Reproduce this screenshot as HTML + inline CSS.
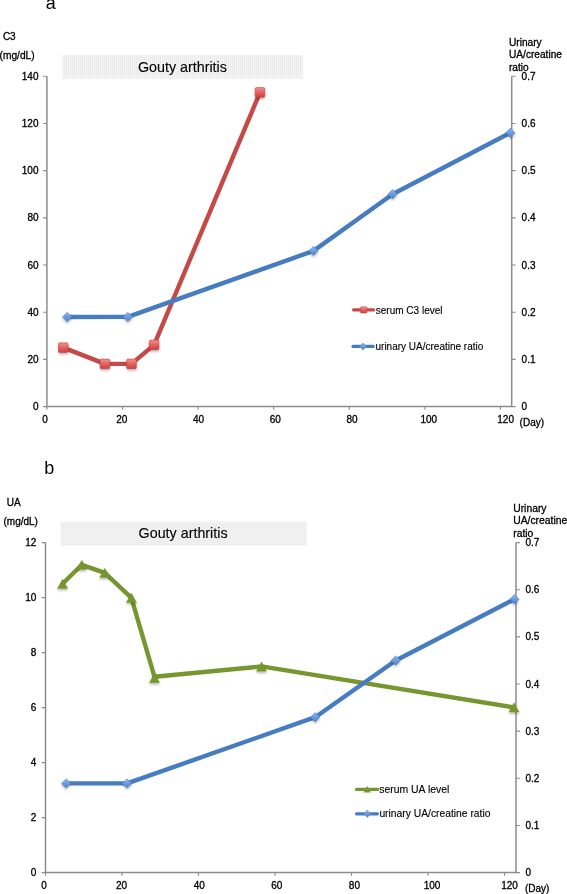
<!DOCTYPE html><html><head><meta charset="utf-8"><style>html,body{margin:0;padding:0;background:#fff;}svg{display:block;will-change:transform}</style></head><body>
<svg width="567" height="894" viewBox="0 0 567 894" font-family='"Liberation Sans", sans-serif' font-size="10" fill="#000">
<style>text{stroke:#000;stroke-width:0.3px;}</style>
<defs>
<pattern id="hatch" width="2" height="2" patternUnits="userSpaceOnUse"><rect width="2" height="2" fill="#f5f5f5"/><rect width="1" height="2" fill="#ebebeb"/></pattern>
<pattern id="check" width="2" height="2" patternUnits="userSpaceOnUse"><rect width="2" height="2" fill="#f5f5f5"/><rect width="1" height="1" fill="#eaeaea"/><rect x="1" y="1" width="1" height="1" fill="#eaeaea"/></pattern>
<linearGradient id="gr" x1="0" y1="0" x2="0" y2="1"><stop offset="0" stop-color="#f29391"/><stop offset="0.5" stop-color="#e2625f"/><stop offset="1" stop-color="#d0413f"/></linearGradient>
<linearGradient id="gb" x1="0" y1="0" x2="0" y2="1"><stop offset="0" stop-color="#8fb4ea"/><stop offset="0.5" stop-color="#6d9be0"/><stop offset="1" stop-color="#4e80c6"/></linearGradient>
<filter id="sh" x="-50%" y="-50%" width="200%" height="200%"><feDropShadow dx="0" dy="1.6" stdDeviation="1" flood-color="#000" flood-opacity="0.3"/></filter>
</defs>
<rect width="567" height="894" fill="#fff"/>
<rect x="62.3" y="55.2" width="240.7" height="23.700000000000003" fill="url(#hatch)"/>
<text x="137.9" y="71.6" font-size="14.3" style="stroke-width:0.12px">Gouty arthritis</text>
<path d="M46.9 76.3V406.6H511.7V76.3" fill="none" stroke="#8c8c8c" stroke-width="1.5"/>
<path d="M43.1 406.6H46.9M511.7 406.6H515.6M43.1 359.41H46.9M511.7 359.41H515.6M43.1 312.23H46.9M511.7 312.23H515.6M43.1 265.04H46.9M511.7 265.04H515.6M43.1 217.86H46.9M511.7 217.86H515.6M43.1 170.67H46.9M511.7 170.67H515.6M43.1 123.49H46.9M511.7 123.49H515.6M43.1 76.3H46.9M511.7 76.3H515.6M46.9 406.6V409.8M122.5 406.6V409.8M198.1 406.6V409.8M273.7 406.6V409.8M349.3 406.6V409.8M424.9 406.6V409.8M500.5 406.6V409.8" fill="none" stroke="#8c8c8c" stroke-width="1.1"/>
<text x="38.5" y="410.1" text-anchor="end">0</text>
<text x="521.6" y="410.1">0</text>
<text x="38.5" y="362.91" text-anchor="end">20</text>
<text x="521.6" y="362.91">0.1</text>
<text x="38.5" y="315.73" text-anchor="end">40</text>
<text x="521.6" y="315.73">0.2</text>
<text x="38.5" y="268.54" text-anchor="end">60</text>
<text x="521.6" y="268.54">0.3</text>
<text x="38.5" y="221.36" text-anchor="end">80</text>
<text x="521.6" y="221.36">0.4</text>
<text x="38.5" y="174.17" text-anchor="end">100</text>
<text x="521.6" y="174.17">0.5</text>
<text x="38.5" y="126.99" text-anchor="end">120</text>
<text x="521.6" y="126.99">0.6</text>
<text x="38.5" y="79.8" text-anchor="end">140</text>
<text x="521.6" y="79.8">0.7</text>
<text x="45" y="423" text-anchor="middle">0</text>
<text x="121.77" y="423" text-anchor="middle">20</text>
<text x="198.54" y="423" text-anchor="middle">40</text>
<text x="275.31" y="423" text-anchor="middle">60</text>
<text x="352.08" y="423" text-anchor="middle">80</text>
<text x="428.85" y="423" text-anchor="middle">100</text>
<text x="505.62" y="423" text-anchor="middle">120</text>
<text x="519.6" y="425.8">(Day)</text>
<rect x="60.6" y="521.6" width="246.1" height="24.0" fill="url(#check)"/>
<text x="138.6" y="538.0" font-size="14.3" style="stroke-width:0.12px">Gouty arthritis</text>
<path d="M45.5 542.6V872.6H516V542.6" fill="none" stroke="#8c8c8c" stroke-width="1.5"/>
<text x="36.3" y="876.1" text-anchor="end">0</text>
<text x="36.3" y="821.1" text-anchor="end">2</text>
<text x="36.3" y="766.1" text-anchor="end">4</text>
<text x="36.3" y="711.1" text-anchor="end">6</text>
<text x="36.3" y="656.1" text-anchor="end">8</text>
<text x="36.3" y="601.1" text-anchor="end">10</text>
<text x="36.3" y="546.1" text-anchor="end">12</text>
<text x="44" y="889" text-anchor="middle">0</text>
<text x="121.6" y="889" text-anchor="middle">20</text>
<text x="199.2" y="889" text-anchor="middle">40</text>
<text x="276.8" y="889" text-anchor="middle">60</text>
<text x="354.4" y="889" text-anchor="middle">80</text>
<text x="432" y="889" text-anchor="middle">100</text>
<text x="509.6" y="889" text-anchor="middle">120</text>
<path d="M41.7 872.6H45.5M41.7 817.6H45.5M41.7 762.6H45.5M41.7 707.6H45.5M41.7 652.6H45.5M41.7 597.6H45.5M41.7 542.6H45.5M45.5 872.6V875.8M122 872.6V875.8M198.5 872.6V875.8M275 872.6V875.8M351.5 872.6V875.8M428 872.6V875.8M504.5 872.6V875.8" fill="none" stroke="#8c8c8c" stroke-width="1.1"/>
<text x="525.5" y="876.1">0</text>
<text x="525.5" y="828.96">0.1</text>
<text x="525.5" y="781.81">0.2</text>
<text x="525.5" y="734.67">0.3</text>
<text x="525.5" y="687.53">0.4</text>
<text x="525.5" y="640.39">0.5</text>
<text x="525.5" y="593.24">0.6</text>
<text x="525.5" y="546.1">0.7</text>
<path d="M516 872.6H519.9M516 825.46H519.9M516 778.31H519.9M516 731.17H519.9M516 684.03H519.9M516 636.89H519.9M516 589.74H519.9M516 542.6H519.9" fill="none" stroke="#8c8c8c" stroke-width="1.1"/>
<text x="525" y="891.5">(Day)</text>
<text x="45.8" y="9.2" font-size="18" style="stroke-width:0">a</text>
<text x="44.2" y="473.8" font-size="18" style="stroke-width:0">b</text>
<text x="2.9" y="39.9">C3</text>
<text x="-0.5" y="58.5" font-size="10.2">(mg/dL)</text>
<text x="6.8" y="506.1">UA</text>
<text x="3.5" y="524.8">(mg/dL)</text>
<text x="509" y="46" font-size="10.15">Urinary</text>
<text x="509" y="58.3" font-size="10.15">UA/creatine</text>
<text x="509" y="70.6" font-size="10.15">ratio</text>
<text x="513.2" y="511.9" font-size="10.35">Urinary</text>
<text x="513.2" y="524.4" font-size="10.35">UA/creatine</text>
<text x="513.2" y="536.8" font-size="10.35">ratio</text>
<polyline points="63.3,347.6 105,363.9 131.5,363.9 154.1,344.9 260,92.4" fill="none" stroke="#c54a47" stroke-width="4.4" stroke-linejoin="round" stroke-linecap="round"/>
<rect x="58.5" y="342.8" width="9.6" height="9.6" rx="1.3" fill="url(#gr)" stroke="#c8403e" stroke-width="0.6" filter="url(#sh)"/>
<rect x="100.2" y="359.1" width="9.6" height="9.6" rx="1.3" fill="url(#gr)" stroke="#c8403e" stroke-width="0.6" filter="url(#sh)"/>
<rect x="126.7" y="359.1" width="9.6" height="9.6" rx="1.3" fill="url(#gr)" stroke="#c8403e" stroke-width="0.6" filter="url(#sh)"/>
<rect x="149.3" y="340.1" width="9.6" height="9.6" rx="1.3" fill="url(#gr)" stroke="#c8403e" stroke-width="0.6" filter="url(#sh)"/>
<rect x="255.2" y="87.6" width="9.6" height="9.6" rx="1.3" fill="url(#gr)" stroke="#c8403e" stroke-width="0.6" filter="url(#sh)"/>
<polyline points="67.2,317 127.9,316.9 313.5,250.9 392.5,194.2 510.4,132.8" fill="none" stroke="#467cc0" stroke-width="4.4" stroke-linejoin="round" stroke-linecap="round"/>
<path d="M67.2 312.3L71.9 317L67.2 321.7L62.5 317Z" fill="url(#gb)" stroke="#4d80c4" stroke-width="0.5" stroke-linejoin="round" filter="url(#sh)"/>
<path d="M127.9 312.2L132.6 316.9L127.9 321.6L123.2 316.9Z" fill="url(#gb)" stroke="#4d80c4" stroke-width="0.5" stroke-linejoin="round" filter="url(#sh)"/>
<path d="M313.5 246.2L318.2 250.9L313.5 255.6L308.8 250.9Z" fill="url(#gb)" stroke="#4d80c4" stroke-width="0.5" stroke-linejoin="round" filter="url(#sh)"/>
<path d="M392.5 189.5L397.2 194.2L392.5 198.9L387.8 194.2Z" fill="url(#gb)" stroke="#4d80c4" stroke-width="0.5" stroke-linejoin="round" filter="url(#sh)"/>
<path d="M510.4 128.1L515.1 132.8L510.4 137.5L505.7 132.8Z" fill="url(#gb)" stroke="#4d80c4" stroke-width="0.5" stroke-linejoin="round" filter="url(#sh)"/>
<polyline points="62.6,583.8 81.8,564.8 104.8,572.8 131.4,597.9 154.5,676.8 261.5,666.4 514,707.4" fill="none" stroke="#76962f" stroke-width="4.4" stroke-linejoin="round" stroke-linecap="round"/>
<path d="M62.6 579.15L67.7 588.45L57.5 588.45Z" fill="#76962f" stroke="#76962f" stroke-width="0.4" stroke-linejoin="round" filter="url(#sh)"/>
<path d="M81.8 560.15L86.9 569.45L76.7 569.45Z" fill="#76962f" stroke="#76962f" stroke-width="0.4" stroke-linejoin="round" filter="url(#sh)"/>
<path d="M104.8 568.15L109.9 577.45L99.7 577.45Z" fill="#76962f" stroke="#76962f" stroke-width="0.4" stroke-linejoin="round" filter="url(#sh)"/>
<path d="M131.4 593.25L136.5 602.55L126.3 602.55Z" fill="#76962f" stroke="#76962f" stroke-width="0.4" stroke-linejoin="round" filter="url(#sh)"/>
<path d="M154.5 673.35L159.6 682.65L149.4 682.65Z" fill="#76962f" stroke="#76962f" stroke-width="0.4" stroke-linejoin="round" filter="url(#sh)"/>
<path d="M261.5 661.95L266.6 671.25L256.4 671.25Z" fill="#76962f" stroke="#76962f" stroke-width="0.4" stroke-linejoin="round" filter="url(#sh)"/>
<path d="M514 702.75L519.1 712.05L508.9 712.05Z" fill="#76962f" stroke="#76962f" stroke-width="0.4" stroke-linejoin="round" filter="url(#sh)"/>
<polyline points="66.2,783.4 127.1,783.4 315.2,717.2 395.7,660.5 514.4,599.2" fill="none" stroke="#467cc0" stroke-width="4.4" stroke-linejoin="round" stroke-linecap="round"/>
<path d="M66.2 778.7L70.9 783.4L66.2 788.1L61.5 783.4Z" fill="url(#gb)" stroke="#4d80c4" stroke-width="0.5" stroke-linejoin="round" filter="url(#sh)"/>
<path d="M127.1 778.7L131.8 783.4L127.1 788.1L122.4 783.4Z" fill="url(#gb)" stroke="#4d80c4" stroke-width="0.5" stroke-linejoin="round" filter="url(#sh)"/>
<path d="M315.2 712.5L319.9 717.2L315.2 721.9L310.5 717.2Z" fill="url(#gb)" stroke="#4d80c4" stroke-width="0.5" stroke-linejoin="round" filter="url(#sh)"/>
<path d="M395.7 655.8L400.4 660.5L395.7 665.2L391 660.5Z" fill="url(#gb)" stroke="#4d80c4" stroke-width="0.5" stroke-linejoin="round" filter="url(#sh)"/>
<path d="M514.4 594.5L519.1 599.2L514.4 603.9L509.7 599.2Z" fill="url(#gb)" stroke="#4d80c4" stroke-width="0.5" stroke-linejoin="round" filter="url(#sh)"/>
<path d="M353.6 309.9H373.6" stroke="#c54a47" stroke-width="3.2" stroke-linecap="round"/>
<rect x="360.6" y="306.8" width="6.3" height="6.3" rx="0.7" fill="url(#gr)" stroke="#c8403e" stroke-width="0.5"/>
<text x="375.8" y="313.6" style="stroke-width:0.12px">serum C3 level</text>
<path d="M353 346.4H373.2" stroke="#467cc0" stroke-width="3.2" stroke-linecap="round"/>
<path d="M363 342.9L366.5 346.4L363 349.9L359.5 346.4Z" fill="url(#gb)" stroke="#4d80c4" stroke-width="0.5"/>
<text x="375.5" y="350" style="stroke-width:0.12px">urinary UA/creatine ratio</text>
<path d="M356.5 789.4H377.5" stroke="#76962f" stroke-width="3.2" stroke-linecap="round"/>
<path d="M367.3 786L371 792.4H363.6Z" fill="#76962f"/>
<text x="379.2" y="793.3" font-size="10.45" style="stroke-width:0.12px">serum UA level</text>
<path d="M356.5 813.8H377.5" stroke="#467cc0" stroke-width="3.2" stroke-linecap="round"/>
<path d="M367.3 810L370.6 813.8L367.3 817.6L364 813.8Z" fill="url(#gb)" stroke="#4d80c4" stroke-width="0.5"/>
<text x="379.4" y="817.1" font-size="10.3" style="stroke-width:0.12px">urinary UA/creatine ratio</text>
</svg></body></html>
